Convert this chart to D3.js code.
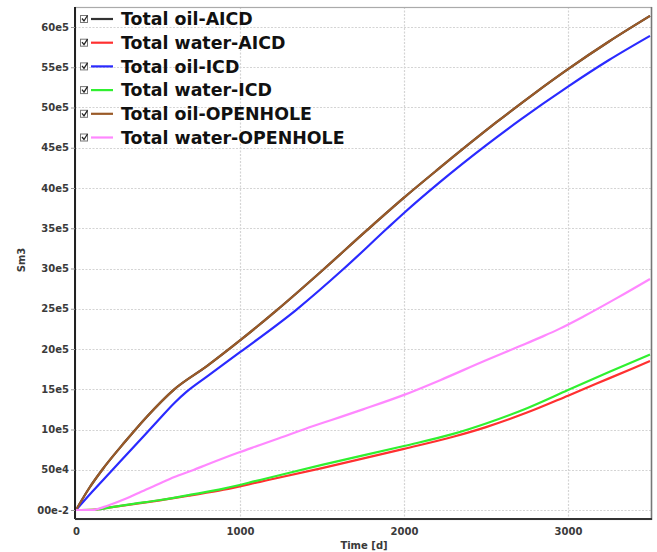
<!DOCTYPE html>
<html>
<head>
<meta charset="utf-8">
<script src="https://cdn.jsdelivr.net/npm/d3@7"></script>
<style>
  html, body { margin: 0; padding: 0; background: #fff; }
  svg { display: block; }
  text { font-family: "DejaVu Sans", Verdana, sans-serif; font-weight: bold; }
</style>
</head>
<body>
<svg id="chart" width="657" height="552"></svg>
<script>
// Cumulative production per completion, [time in days, volume in Sm3]
const oilAICD = [[0,0],[80,270e3],[160,500e3],[300,850e3],[432,1159e3],[594,1490e3],[800,1790e3],[1000,2106e3],[1223,2480e3],[1507,2985e3],[1771,3470e3],[2000,3880e3],[2197,4215e3],[2562,4814e3],[2800,5183e3],[3000,5477e3],[3250,5820e3],[3500,6138e3]];
const waterAICD = [[0,0],[100,2e3],[209,32e3],[350,72e3],[513,120e3],[700,182e3],[900,252e3],[1122,350e3],[1500,520e3],[2000,760e3],[2300,910e3],[2500,1030e3],[2750,1210e3],[3000,1420e3],[3250,1635e3],[3500,1850e3]];
const oilICD = [[0,0],[100,230e3],[209,470e3],[350,780e3],[503,1118e3],[600,1330e3],[675,1470e3],[800,1660e3],[1000,1960e3],[1345,2490e3],[1629,2990e3],[1893,3490e3],[2000,3690e3],[2217,4070e3],[2500,4530e3],[2704,4840e3],[3000,5260e3],[3250,5590e3],[3500,5890e3]];
const waterICD = [[0,0],[100,2e3],[209,33e3],[350,76e3],[513,124e3],[700,190e3],[900,265e3],[1122,373e3],[1500,560e3],[2000,795e3],[2300,945e3],[2500,1075e3],[2750,1265e3],[3000,1490e3],[3250,1715e3],[3500,1930e3]];
const oilOpenhole = [[0,0],[80,270e3],[160,500e3],[300,850e3],[432,1159e3],[594,1490e3],[800,1790e3],[1000,2106e3],[1223,2480e3],[1507,2985e3],[1771,3470e3],[2000,3880e3],[2197,4215e3],[2562,4814e3],[2800,5183e3],[3000,5477e3],[3250,5820e3],[3500,6138e3]];
const waterOpenhole = [[0,0],[100,0],[200,60e3],[310,145e3],[400,230e3],[500,320e3],[600,410e3],[716,497e3],[800,565e3],[1000,720e3],[1122,807e3],[1250,900e3],[1400,1010e3],[1558,1118e3],[1750,1250e3],[2000,1430e3],[2217,1610e3],[2500,1860e3],[2700,2030e3],[2850,2160e3],[2947,2250e3],[3100,2410e3],[3300,2635e3],[3500,2870e3]];

const seriesNames = ["Total oil-AICD","Total water-AICD","Total oil-ICD","Total water-ICD","Total oil-OPENHOLE","Total water-OPENHOLE"];
const seriesData = [oilAICD, waterAICD, oilICD, waterICD, oilOpenhole, waterOpenhole];
const seriesColors = ["#333333","#ff3030","#2a2aff","#30f030","#9a5a28","#ff88ff"];

const yTickValues = [0,5e5,1e6,1.5e6,2e6,2.5e6,3e6,3.5e6,4e6,4.5e6,5e6,5.5e6,6e6];
const yTickLabels = ["00e-2","50e4","10e5","15e5","20e5","25e5","30e5","35e5","40e5","45e5","50e5","55e5","60e5"];
const xTickValues = [0,1000,2000,3000];
const xTickLabels = ["0","1000","2000","3000"];

const svg = d3.select("#chart");
const frame = {left: 75, right: 651, top: 7, bottom: 519};

const x = d3.scaleLinear().domain([0, 3500]).range([76, 650]);
const y = d3.scaleLinear().domain([0, 6e6]).range([510, 27]);

// dotted grid
const grid = svg.append("g").attr("stroke", "#d4d4d4").attr("stroke-width", 1.2).attr("stroke-dasharray", "2,1.5");
grid.selectAll("line.h").data(yTickValues).join("line")
  .attr("x1", frame.left).attr("x2", frame.right)
  .attr("y1", d => Math.round(y(d)) + 0.5).attr("y2", d => Math.round(y(d)) + 0.5);
grid.selectAll("line.v").data(xTickValues.filter(d => d > 0)).join("line")
  .attr("y1", frame.top).attr("y2", frame.bottom)
  .attr("x1", d => Math.round(x(d)) + 0.5).attr("x2", d => Math.round(x(d)) + 0.5);

// curves, in legend order so later series sit on top
const line = d3.line().x(d => x(d[0])).y(d => y(d[1])).curve(d3.curveMonotoneX);
svg.append("g").selectAll("path").data(seriesData).join("path")
  .attr("d", line)
  .attr("fill", "none")
  .attr("stroke", (d, i) => seriesColors[i])
  .attr("stroke-width", 2.2)
  .attr("stroke-linejoin", "round");

// frame
svg.append("rect")
  .attr("x", frame.left + 0.5).attr("y", frame.top + 0.5)
  .attr("width", frame.right - frame.left).attr("height", frame.bottom - frame.top)
  .attr("fill", "none").attr("stroke", "#aaaaaa").attr("stroke-width", 1.2);
svg.append("line").attr("x1", frame.right + 0.5).attr("x2", frame.right + 0.5)
  .attr("y1", frame.top).attr("y2", frame.bottom + 1)
  .attr("stroke", "#777").attr("stroke-width", 1.5);

// axes
const yAxis = d3.axisLeft(y).tickValues(yTickValues)
  .tickFormat((d, i) => yTickLabels[i]).tickSize(4).tickPadding(2);
const gy = svg.append("g").attr("transform", `translate(${frame.left},0)`).call(yAxis);
gy.select(".domain").attr("d", `M0,${frame.top}V${frame.bottom}`).attr("stroke", "#222").attr("stroke-width", 2);
gy.selectAll(".tick line").attr("stroke", "#999");
gy.selectAll(".tick text").attr("fill", "#3a3a3a").style("font-size", "10px")
  .style("font-family", "'DejaVu Sans', Verdana, sans-serif").style("font-weight", "bold");

const xAxis = d3.axisBottom(x).tickValues(xTickValues)
  .tickFormat((d, i) => xTickLabels[i]).tickSize(0).tickPadding(9);
const gx = svg.append("g").attr("transform", `translate(0,${frame.bottom})`).call(xAxis);
gx.select(".domain").attr("d", `M${frame.left},0H${frame.right + 1}`).attr("stroke", "#333").attr("stroke-width", 2);
gx.selectAll(".tick text").attr("fill", "#3a3a3a").style("font-size", "10px")
  .style("font-family", "'DejaVu Sans', Verdana, sans-serif").style("font-weight", "bold");

// axis titles
svg.append("text").attr("x", 364).attr("y", 549).attr("text-anchor", "middle")
  .attr("fill", "#3a3a3a").style("font-size", "10px").text("Time [d]");
svg.append("text").attr("transform", "translate(25,260) rotate(-90)").attr("text-anchor", "middle")
  .attr("fill", "#3a3a3a").style("font-size", "10px").text("Sm3");

// legend with check boxes
const legend = svg.append("g");
const rows = legend.selectAll("g").data(seriesNames).join("g")
  .attr("transform", (d, i) => `translate(0,${19 + i * 23.7})`);
rows.append("rect").attr("x", 80.5).attr("y", -3.5).attr("width", 7).attr("height", 7)
  .attr("fill", "#fff").attr("stroke", "#777").attr("stroke-width", 1);
rows.append("path").attr("d", "M82,-0.5L84,2L87.5,-3.5")
  .attr("fill", "none").attr("stroke", "#222").attr("stroke-width", 1.3);
rows.append("line").attr("x1", 91).attr("x2", 113).attr("y1", 0).attr("y2", 0)
  .attr("stroke", (d, i) => seriesColors[i]).attr("stroke-width", 2.2);
rows.append("text").attr("x", 121).attr("y", 6.2)
  .attr("fill", "#111").style("font-size", "17.4px").text(d => d);
</script>
</body>
</html>
